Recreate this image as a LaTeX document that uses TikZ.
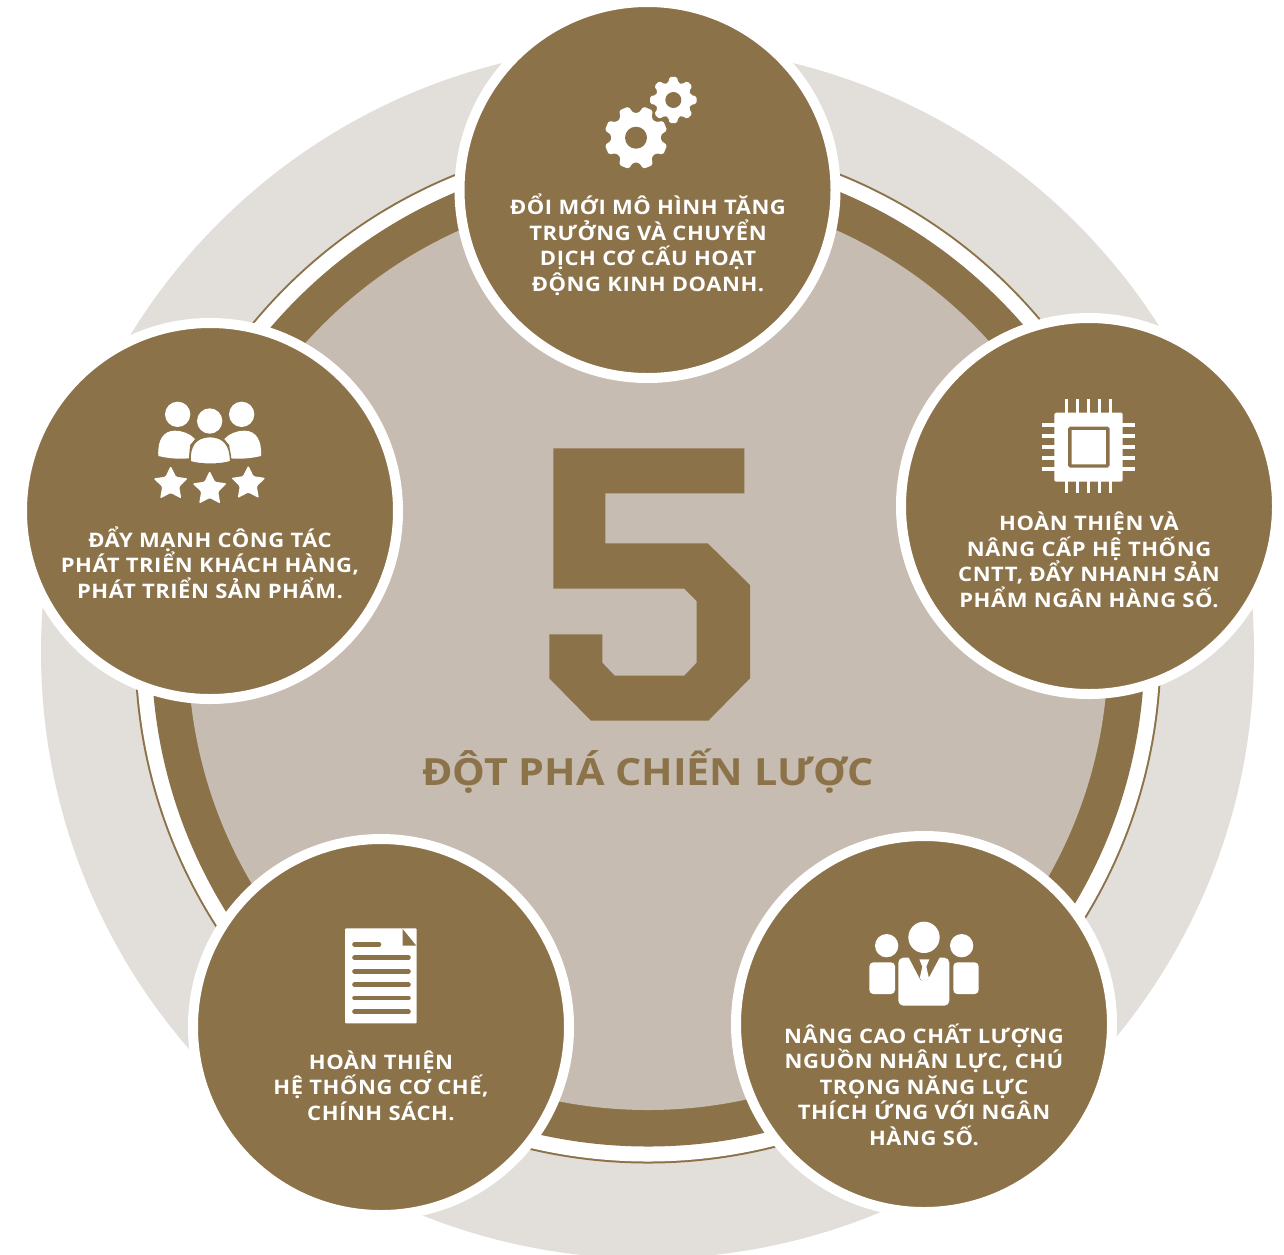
\documentclass[tikz,border=0pt]{standalone}
\usepackage{fontspec}
\setmainfont{Open Sans}
\newfontfamily\hubfont{Open Sans}[FakeStretch=1.1,LetterSpace=2.8]
\newfontfamily\titlefont{Open Sans}[FakeStretch=1.1]
\definecolor{brownc}{HTML}{8C7249}
\definecolor{innerc}{HTML}{C6BCB1}
\definecolor{outerc}{HTML}{E2DFDB}
\newcommand{\gearicon}[6]{% x y R r hole phase
  \begin{scope}[shift={(#1,#2)}]
    \fill[white,rounded corners=1.6] ({#6-16}:#4)
      \foreach \k in {0,...,7} {
        -- ({#6+45*\k-16}:#4) -- ({#6+45*\k-9}:#3) -- ({#6+45*\k+9}:#3) -- ({#6+45*\k+16}:#4)
      } -- cycle;
    \fill[brownc] (0,0) circle[radius=#5];
  \end{scope}}
\newcommand{\staricon}[3]{% x y R
  \begin{scope}[shift={(#1,#2)}]
    \pgfmathsetmacro{\rin}{0.5*#3}
    \fill[white,rounded corners=1.2] (-90:#3)
      \foreach \k in {0,...,3} {
        -- ({-54+72*\k}:\rin) -- ({-18+72*\k}:#3)
      } -- (-126:\rin) -- cycle;
  \end{scope}}
\tikzset{
  x=1pt,y=-1pt,
  hub/.style={circle,fill=brownc,draw=white,line width=10pt,minimum size=376pt,inner sep=0pt},
  hubtext/.style={text=white,align=center,font=\hubfont\bfseries\fontsize{20}{25.5}\selectfont,inner sep=0pt,anchor=base},
  titletext/.style={text=brownc,font=\titlefont\bfseries\fontsize{37.5}{40}\selectfont,inner sep=0pt,anchor=base},
  pin/.style={draw=white,line width=3.2pt},
  docline/.style={draw=brownc,line width=4.6pt,line cap=round}
}
\begin{document}
\begin{tikzpicture}
\useasboundingbox (0,0) rectangle (1284,1254);
\clip (0,0) rectangle (1284,1254);
\fill[white] (0,0) rectangle (1284,1254);
% concentric discs
\fill[outerc] (647.5,652) circle[radius=606.5];
\fill[brownc] (648,650) circle[radius=513.5];
\fill[white] (648,650) circle[radius=511.5];
\fill[brownc] (648,650) circle[radius=496.5];
\fill[innerc] (648,650) circle[radius=460];
% five
\fill[brownc] (553.3,448.3) -- (744.3,448.3) -- (744.3,493.3) -- (605.3,493.3) -- (605.3,543.3) -- (707.7,543.3) -- (750,585) -- (750,678.3) -- (708.3,720.7) -- (591,720.7) -- (549.3,678.3) -- (549.3,634.3) -- (602.3,634.3) -- (602.3,662.7) -- (614.7,675.7) -- (684.3,675.7) -- (696.7,662.7) -- (696.7,601) -- (684.3,588.7) -- (553.3,588.7) -- cycle;
\node[titletext] (title) at (648,785) {ĐỘT PHÁ CHIẾN LƯỢC};
% hubs
\node[hub] (hubtop) at (647.5,190) {};
\node[hub] (hubright) at (1089,506) {};
\node[hub] (hubleft) at (210,511) {};
\node[hub] (hubbr) at (924,1024) {};
\node[hub] (hubbl) at (381,1027) {};
% texts
\node[hubtext] (ttop) at (648,291) {ĐỔI MỚI MÔ HÌNH TĂNG\\TRƯỞNG VÀ CHUYỂN\\DỊCH CƠ CẤU HOẠT\\ĐỘNG KINH DOANH.};
\node[hubtext] (tright) at (1089,607) {HOÀN THIỆN VÀ\\NÂNG CẤP HỆ THỐNG\\CNTT, ĐẨY NHANH SẢN\\PHẨM NGÂN HÀNG SỐ.};
\node[hubtext] (tleft) at (210,598) {ĐẨY MẠNH CÔNG TÁC\\PHÁT TRIỂN KHÁCH HÀNG,\\PHÁT TRIỂN SẢN PHẨM.};
\node[hubtext] (tbr) at (924,1145) {NÂNG CAO CHẤT LƯỢNG\\NGUỒN NHÂN LỰC, CHÚ\\TRỌNG NĂNG LỰC\\THÍCH ỨNG VỚI NGÂN\\HÀNG SỐ.};
\node[hubtext] (tbl) at (381,1120) {HOÀN THIỆN\\HỆ THỐNG CƠ CHẾ,\\CHÍNH SÁCH.};
% gears
\gearicon{673.3}{100}{23.5}{18}{8}{0}
\gearicon{636}{137.7}{32}{25}{11}{22.5}
% chip
\foreach \px in {1066.7,1077.7,1088.7,1099.7,1110.7} \draw[pin] (\px,399) -- (\px,493.3);
\foreach \py in {425,436,447,458,469} \draw[pin] (1042,\py) -- (1135.3,\py);
\fill[white,rounded corners=1.5] (1054.3,412.7) rectangle (1122.7,481.7);
\draw[brownc,line width=3.4pt,rounded corners=1] (1069.9,428.2) rectangle (1107.8,466);
% people and stars
\begin{scope}[shift={(140,390)},x=0.3333pt,y=-0.3333pt]
  \fill[white] (113,73) circle[radius=38] (209,93) circle[radius=38] (305,73) circle[radius=38];
  \fill[white] (55,198) .. controls (52,150) and (70,122) .. (105,122) .. controls (125,122) and (150,130) .. (165,147) -- (150,165) -- (147,205) .. controls (115,208) and (85,205) .. (55,198) -- cycle;
  \fill[white] (363,198) .. controls (366,150) and (348,122) .. (313,122) .. controls (293,122) and (268,130) .. (253,147) -- (268,165) -- (271,205) .. controls (303,208) and (333,205) .. (363,198) -- cycle;
  \filldraw[fill=white,draw=brownc,line width=1.5pt] (150,215) .. controls (148,170) and (165,140) .. (210,140) .. controls (255,140) and (272,170) .. (272,215) .. controls (240,225) and (180,225) .. (150,215) -- cycle;
\end{scope}
\staricon{170.7}{484}{18}
\staricon{209.7}{489}{18}
\staricon{248.3}{483.5}{18}
% staff
\begin{scope}[shift={(850,910)},x=0.3333pt,y=-0.3333pt]
  \fill[white] (222,82) circle[radius=47] (110,107) circle[radius=35] (335,107) circle[radius=35];
  \fill[white,rounded corners=4] (58,157) rectangle (135,252);
  \fill[white,rounded corners=4] (310,157) rectangle (386,252);
  \fill[white,rounded corners=5] (145,143) rectangle (298,287);
  \fill[brownc] (175,140) -- (270,140) -- (233,209) -- (222,215) -- (211,209) -- cycle;
  \fill[white] (208,148) -- (238,148) -- (229,170) -- (237,205) -- (223,218) -- (209,205) -- (217,170) -- cycle;
\end{scope}
% document
\fill[white,rounded corners=1] (345,928.3) rectangle (416.7,1023.3);
\fill[brownc] (402.7,929) -- (416.3,945.7) -- (402.7,945.7) -- cycle;
\draw[docline] (354.5,944.3) -- (379,944.3);
\foreach \py in {957.7,971.3,984.7,998,1011.7} \draw[docline] (354.5,\py) -- (408.5,\py);
\end{tikzpicture}
\end{document}
